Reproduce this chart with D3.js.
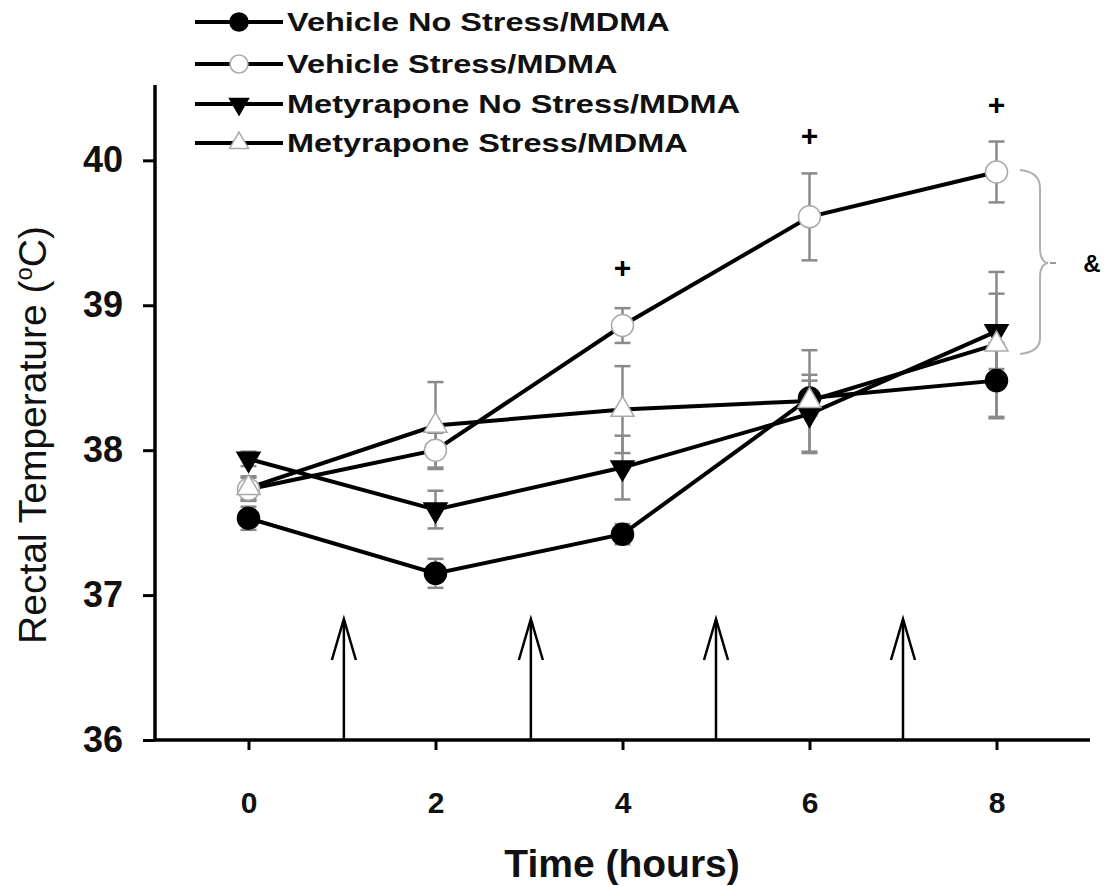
<!DOCTYPE html>
<html lang="en">
<head>
<meta charset="utf-8">
<script src="https://cdn.jsdelivr.net/npm/d3@7"></script>
<style>
  body { margin: 0; background: #fff; }
  text { font-family: "Liberation Sans", Arial, sans-serif; }
</style>
</head>
<body>
<svg id="chart"></svg>
<script>
var width = 1105, height = 886;

// data
var hours = [0, 2, 4, 6, 8];
var seriesNames = ["Vehicle No Stress/MDMA", "Vehicle Stress/MDMA",
                   "Metyrapone No Stress/MDMA", "Metyrapone Stress/MDMA"];
var vehNoStress = [37.53, 37.15, 37.42, 38.36, 38.48];
var vehNoStressErr = [0.08, 0.1, 0.07, 0.12, 0.26];
var vehStress = [37.73, 38.0, 38.86, 39.61, 39.92];
var vehStressErr = [0.08, 0.12, 0.12, 0.3, 0.21];
var metNoStress = [37.94, 37.59, 37.88, 38.25, 38.82];
var metNoStressErr = [0.05, 0.13, 0.22, 0.27, 0.26];
var metStress = [37.74, 38.17, 38.28, 38.34, 38.73];
var metStressErr = [0.08, 0.3, 0.3, 0.35, 0.5];
var arrowTimes = [1.02, 3.02, 5, 7];
var plusTimes = [4, 6, 8];
var plusTemps = [39.26, 40.17, 40.38];
var yTicks = [36, 37, 38, 39, 40];
var xTicks = [0, 2, 4, 6, 8];

var svg = d3.select("#chart").attr("width", width).attr("height", height);

var x = d3.scaleLinear().domain([-1, 9]).range([155, 1090]);
var y = d3.scaleLinear().domain([36, 40.52]).range([740, 85]);

// axes
var yAxis = svg.append("g").attr("transform", "translate(155,0)")
  .call(d3.axisLeft(y).tickValues(yTicks).tickSize(12).tickPadding(20).tickFormat(d3.format("d")));
var xAxis = svg.append("g").attr("transform", "translate(0,740)")
  .call(d3.axisBottom(x).tickValues(xTicks).tickSize(10).tickPadding(42).tickFormat(d3.format("d")));
[yAxis, xAxis].forEach(function(g){
  g.select(".domain").attr("stroke", "#000").attr("stroke-width", 3.5);
  g.selectAll(".tick line").attr("stroke", "#000").attr("stroke-width", 3);
  g.selectAll(".tick text").attr("fill", "#111").style("font-weight", "bold");
});
yAxis.selectAll(".tick text").style("font-size", "36px");
xAxis.selectAll(".tick text").style("font-size", "30px");
xAxis.select(".domain").attr("d", "M155,0H1090");
yAxis.select(".domain").attr("d", "M0,85V740");

// axis titles
svg.append("text").attr("x", 622).attr("y", 877).attr("text-anchor", "middle")
  .style("font-size", "39px").style("font-weight", "bold").attr("fill", "#111")
  .text("Time (hours)");
var yt = svg.append("text").attr("transform", "translate(46,435) rotate(-90)")
  .attr("text-anchor", "middle").style("font-size", "39px").attr("fill", "#111");
yt.append("tspan").text("Rectal Temperature (");
yt.append("tspan").attr("dy", -14).style("font-size", "24px").text("o");
yt.append("tspan").attr("dy", 14).text("C)");

// injection arrows
arrowTimes.forEach(function(t){
  var ax = x(t);
  svg.append("line").attr("x1", ax).attr("x2", ax).attr("y1", 740).attr("y2", 620)
    .attr("stroke", "#000").attr("stroke-width", 2.5);
  svg.append("path").attr("d", "M" + (ax - 12) + ",660L" + ax + ",619L" + (ax + 12) + ",660")
    .attr("fill", "none").attr("stroke", "#000").attr("stroke-width", 2.5);
});

var series = [
  { name: seriesNames[0], vals: vehNoStress, err: vehNoStressErr, shape: "circle", fill: "#000" },
  { name: seriesNames[1], vals: vehStress, err: vehStressErr, shape: "circle", fill: "#fff" },
  { name: seriesNames[2], vals: metNoStress, err: metNoStressErr, shape: "down", fill: "#000" },
  { name: seriesNames[3], vals: metStress, err: metStressErr, shape: "up", fill: "#fff" }
];

function marker(g, s, cx, cy, k) {
  k = k || 1;
  var stroke = s.fill === "#000" ? "#000" : "#aaa";
  if (s.shape === "circle") {
    g.append("circle").attr("cx", cx).attr("cy", cy).attr("r", 11 * k)
      .attr("fill", s.fill).attr("stroke", stroke).attr("stroke-width", 1.5);
  } else {
    var sym = d3.symbol().type(d3.symbolTriangle).size(230 * k * k);
    g.append("path").attr("d", sym())
      .attr("transform", "translate(" + cx + "," + cy + ")" + (s.shape === "down" ? " rotate(180)" : ""))
      .attr("fill", s.fill).attr("stroke", stroke).attr("stroke-width", 1.5);
  }
}

// error bars
series.forEach(function(s){
  var g = svg.append("g").attr("stroke", "#8a8a8a").attr("stroke-width", 2.5);
  hours.forEach(function(h, i){
    var cx = x(h), top = y(s.vals[i] + s.err[i]), bot = y(s.vals[i] - s.err[i]);
    g.append("line").attr("x1", cx).attr("x2", cx).attr("y1", top).attr("y2", bot);
    g.append("line").attr("x1", cx - 8).attr("x2", cx + 8).attr("y1", top).attr("y2", top);
    g.append("line").attr("x1", cx - 8).attr("x2", cx + 8).attr("y1", bot).attr("y2", bot);
  });
});

// lines
var line = d3.line().x(function(d, i){ return x(hours[i]); }).y(function(d){ return y(d); });
series.forEach(function(s){
  svg.append("path").attr("d", line(s.vals)).attr("fill", "none")
    .attr("stroke", "#000").attr("stroke-width", 4);
});

// markers
series.forEach(function(s){
  var g = svg.append("g");
  s.vals.forEach(function(v, i){ marker(g, s, x(hours[i]), y(v)); });
});

// significance markers
plusTimes.forEach(function(t, i){
  svg.append("text").attr("x", x(t)).attr("y", y(plusTemps[i]) + 10).attr("text-anchor", "middle")
    .style("font-size", "30px").style("font-weight", "bold").attr("fill", "#000").text("+");
});

// bracket
svg.append("path")
  .attr("d", "M1020,170 Q1040,172 1040,188 L1040,248 Q1040,262 1048,263 Q1040,264 1040,278 L1040,338 Q1040,352 1020,354")
  .attr("fill", "none").attr("stroke", "#b0b0b0").attr("stroke-width", 2);
svg.append("line").attr("x1", 1050).attr("x2", 1056).attr("y1", 263).attr("y2", 263)
  .attr("stroke", "#999").attr("stroke-width", 2);
svg.append("text").attr("x", 1092).attr("y", 272).attr("text-anchor", "middle")
  .style("font-size", "24px").style("font-weight", "bold").attr("fill", "#000").text("&");

// legend
var legendY = [22, 64, 104, 143];
series.forEach(function(s, i){
  var ly = legendY[i];
  svg.append("line").attr("x1", 195).attr("x2", 283).attr("y1", ly).attr("y2", ly)
    .attr("stroke", "#000").attr("stroke-width", 4);
  var g = svg.append("g");
  marker(g, s, 239, ly, 0.82);
  svg.append("text").attr("transform", "translate(287," + (ly + 9) + ") scale(1.3,1)")
    .style("font-size", "25px").style("font-weight", "bold").attr("fill", "#111").text(s.name);
});
</script>
</body>
</html>
